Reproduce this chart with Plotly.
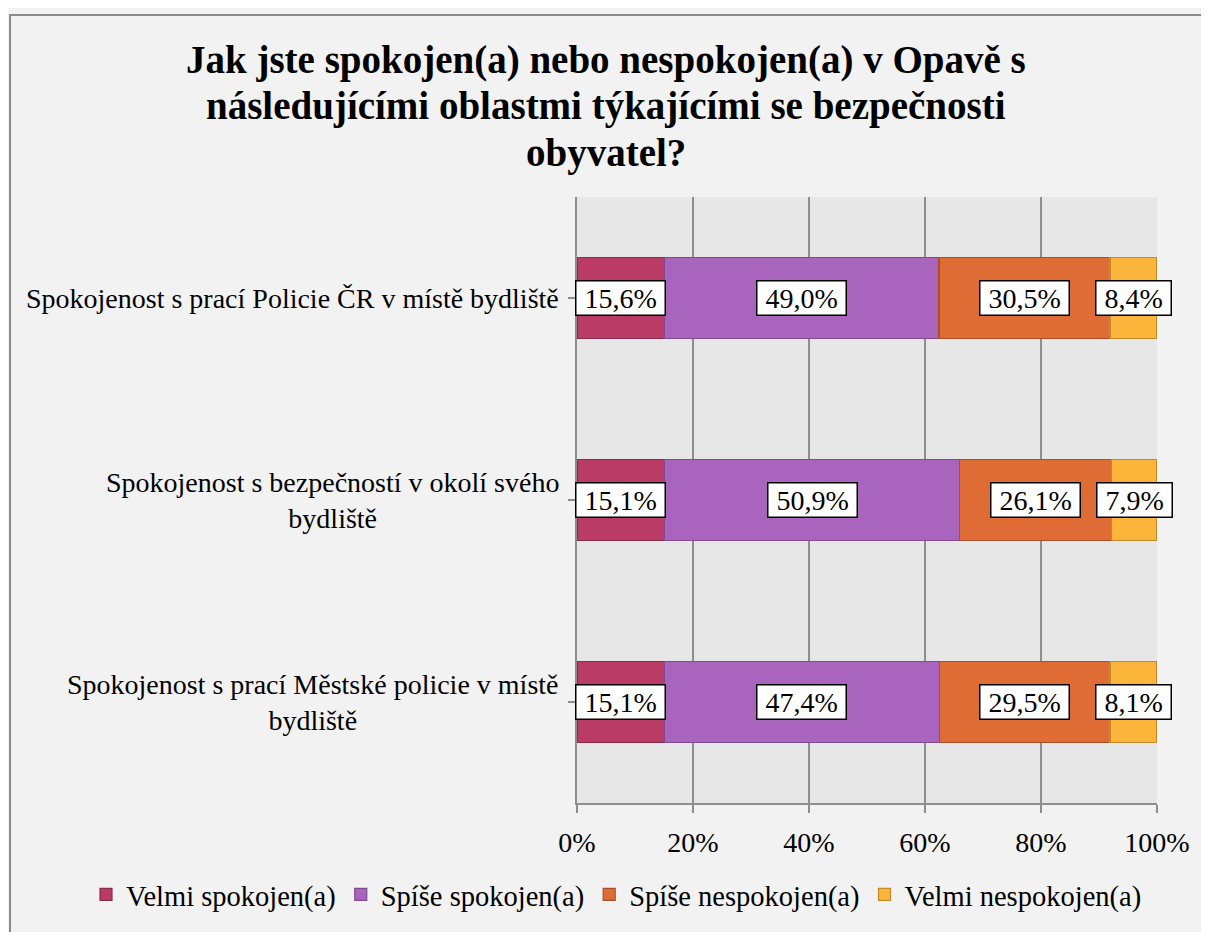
import plotly.graph_objects as go

# ---- data ----
categories = [
    "Spokojenost s prací Policie ČR v místě bydliště",
    "Spokojenost s bezpečností v okolí svého<br>bydliště",
    "Spokojenost s prací Městské policie v místě<br>bydliště",
]
series_names = ["Velmi spokojen(a)", "Spíše spokojen(a)", "Spíše nespokojen(a)", "Velmi nespokojen(a)"]
velmi_spokojen = [15.6, 15.1, 15.1]
spise_spokojen = [49.0, 50.9, 47.4]
spise_nespokojen = [30.5, 26.1, 29.5]
velmi_nespokojen = [8.4, 7.9, 8.1]
x_ticks = [0, 20, 40, 60, 80, 100]
title_lines = [
    "Jak jste spokojen(a) nebo nespokojen(a) v Opavě s",
    "následujícími oblastmi týkajícími se bezpečnosti",
    "obyvatel?",
]

series_values = [velmi_spokojen, spise_spokojen, spise_nespokojen, velmi_nespokojen]
fills = ["#BA3B66", "#A965BD", "#DF6C35", "#FAB53A"]
outlines = ["#8C2B4D", "#7F4A8F", "#A8502A", "#C38A2A"]

FONT = "Liberation Serif"
# page body has an 8px margin, so the figure is sized to fit the 1209x932 window
W, H = 1201, 924
ML, MR, MT, MB = 569, 52, 189, 122
PW, PH = W - ML - MR, H - MT - MB


def px_x(px):
    return (px - ML) / PW


def px_y(py):
    return (H - MB - py) / PH


fig = go.Figure()
ids = list(range(len(categories)))
for name, vals, fc, oc in zip(series_names, series_values, fills, outlines):
    fig.add_trace(go.Bar(
        y=ids, x=vals, name=name, orientation="h",
        marker=dict(color=fc, line=dict(color=oc, width=1.2)),
        hoverinfo="skip",
    ))

annotations = []
# value labels centred on the normalised segments
for i in ids:
    total = sum(s[i] for s in series_values)
    cum = 0.0
    for s in series_values:
        share = s[i] / total * 100
        centre = cum + share / 2
        cum += share
        annotations.append(dict(
            x=centre, y=i, xref="x", yref="y",
            text="\u00a0" + f"{s[i]:.1f}".replace(".", ",") + "%\u00a0",
            showarrow=False, font=dict(family=FONT, size=28, color="black"),
            bgcolor="white", bordercolor="black", borderwidth=1.5, borderpad=1,
        ))
# category labels (centred multi-line)
for i, c in zip(ids, categories):
    annotations.append(dict(
        x=0, y=i, xref="paper", yref="y", xanchor="right", xshift=-16,
        text=c, align="center", showarrow=False,
        font=dict(family=FONT, size=28, color="black"),
    ))
# title lines, centred over the whole figure
for k, line in enumerate(title_lines):
    annotations.append(dict(
        x=px_x(W / 2 - 3), xref="paper", y=px_y(50 + 47 * k), yref="paper",
        xanchor="center", yanchor="middle", showarrow=False, text=line,
        font=dict(family=FONT, size=39, color="black", weight="bold"),
    ))

fig.update_layout(
    width=W, height=H,
    margin=dict(l=ML, r=MR, t=MT, b=MB),
    barmode="stack", barnorm="percent", bargap=0.6,
    paper_bgcolor="#F2F2F2", plot_bgcolor="#E7E7E7",
    font=dict(family=FONT, size=28, color="black"),
    xaxis=dict(range=[0, 100], tickmode="array", tickvals=x_ticks,
               ticktext=[f"{v}%" for v in x_ticks],
               showgrid=True, gridcolor="#8E8E8E", gridwidth=1.5,
               showline=True, linecolor="#8E8E8E", linewidth=1.5,
               ticks="outside", ticklen=8, tickcolor="#8E8E8E", tickwidth=1.5,
               ticklabelstandoff=6,
               zeroline=False, fixedrange=True,
               tickfont=dict(family=FONT, size=28)),
    yaxis=dict(tickvals=ids, showticklabels=False,
               showgrid=False, zeroline=False,
               showline=True, linecolor="#8E8E8E", linewidth=1.5,
               ticks="outside", ticklen=7, tickcolor="#8E8E8E", tickwidth=1.5,
               tickson="boundaries", range=[2.5, -0.5], fixedrange=True),
    legend=dict(orientation="h", xref="paper", yref="paper",
                x=px_x(78), xanchor="left", y=px_y(895), yanchor="middle",
                font=dict(family=FONT, size=28.5), itemwidth=30,
                bgcolor="rgba(0,0,0,0)", traceorder="normal"),
    annotations=annotations,
    shapes=[dict(type="rect", xref="paper", yref="paper",
                 x0=px_x(2), x1=px_x(1199), y0=px_y(935), y1=px_y(5),
                 line=dict(color="#8A8A8A", width=2), layer="below")],
)
fig.write_html("out.html")
